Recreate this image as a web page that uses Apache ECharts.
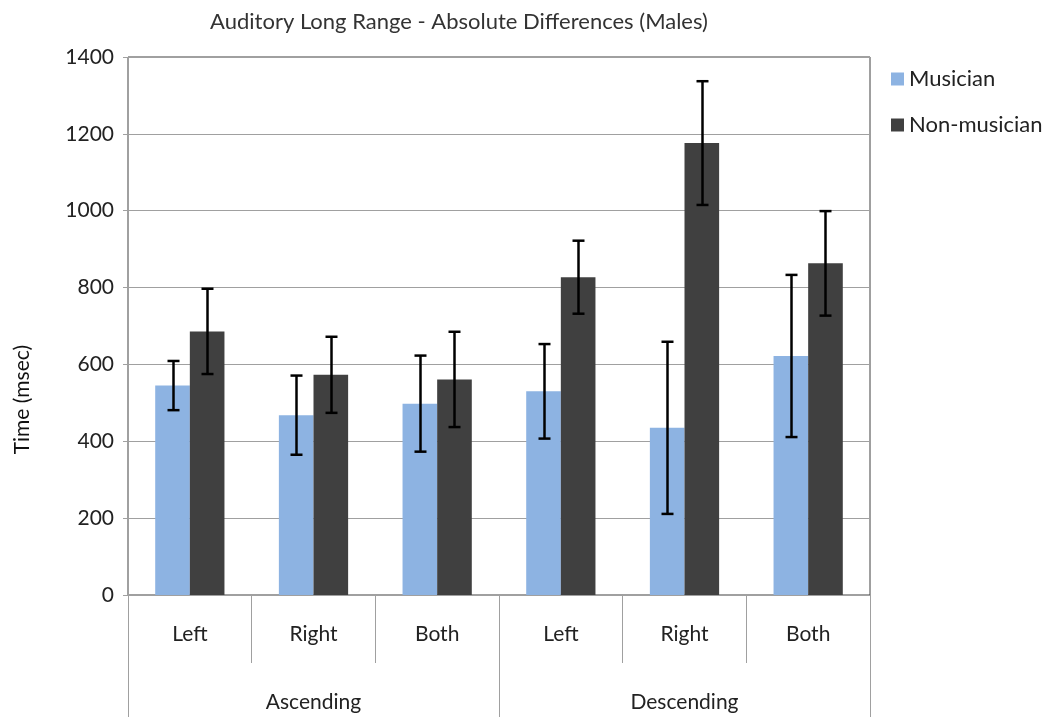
<!DOCTYPE html>
<html>
<head>
<meta charset="utf-8">
<script src="https://cdn.jsdelivr.net/npm/echarts@6/dist/echarts.min.js"></script>
<style>
html,body{margin:0;padding:0;background:#fff;}
#chart{width:1047px;height:717px;}
</style>
</head>
<body>
<div id="chart"></div>
<script>
var categories = ['Left', 'Right', 'Both', 'Left', 'Right', 'Both'];
var groups = ['Ascending', 'Descending'];
var seriesNames = ['Musician', 'Non-musician'];
var musician = [545, 468, 498, 530, 435, 622];
var musicianErr = [64, 103, 125, 123, 224, 211];
var nonMusician = [686, 573, 561, 827, 1176, 863];
var nonMusicianErr = [111, 99, 124, 95, 161, 136];
var yTicks = [0, 200, 400, 600, 800, 1000, 1200, 1400];

var FONT = 'Lato';
var chart = echarts.init(document.getElementById('chart'));

function errData(vals, errs) {
  return vals.map(function (v, i) { return [i, v, v + errs[i], v - errs[i]]; });
}
function errSeries(vals, errs, off) {
  return {
    type: 'custom',
    xAxisIndex: 0,
    yAxisIndex: 0,
    z: 10,
    silent: true,
    data: errData(vals, errs),
    renderItem: function (params, api) {
      var i = api.value(0);
      var hi = api.coord([i, api.value(2)]);
      var lo = api.coord([i, api.value(3)]);
      var W = api.size([1, 0])[0];
      var x = Math.round(hi[0] + off * W) + 0.5;
      var cap = 6;
      var st = { stroke: '#000', lineWidth: 2.5 };
      return {
        type: 'group',
        children: [
          { type: 'line', shape: { x1: x, y1: hi[1], x2: x, y2: lo[1] }, style: st },
          { type: 'line', shape: { x1: x - cap, y1: hi[1], x2: x + cap, y2: hi[1] }, style: st },
          { type: 'line', shape: { x1: x - cap, y1: lo[1], x2: x + cap, y2: lo[1] }, style: st }
        ]
      };
    }
  };
}

var option = {
  backgroundColor: '#fff',
  animation: false,
  textStyle: { fontFamily: FONT },
  title: {
    text: 'Auditory Long Range - Absolute Differences (Males)',
    left: 454,
    textAlign: 'center',
    top: 6,
    textStyle: { fontFamily: FONT, fontSize: 22, fontWeight: 'normal', color: '#333' }
  },
  legend: {
    orient: 'vertical',
    left: 886,
    top: 63,
    itemGap: 24,
    itemWidth: 13,
    itemHeight: 13,
    icon: 'rect',
    data: seriesNames,
    textStyle: { fontFamily: FONT, fontSize: 22, color: '#222', padding: [0, 0, 0, 0] }
  },
  grid: {
    left: 128, right: 177, top: 57, bottom: 122,
    show: true, borderColor: '#404040', borderWidth: 1, backgroundColor: 'transparent'
  },
  graphic: [{
    type: 'text',
    left: 12,
    top: 345,
    rotation: Math.PI / 2,
    style: { text: 'Time (msec)', font: '21px ' + FONT, fill: '#111' }
  }],
  xAxis: [{
    type: 'category',
    data: categories,
    position: 'bottom',
    axisLine: { show: true, lineStyle: { color: '#a0a0a0', width: 1 } },
    axisTick: { show: true, length: 68, lineStyle: { color: '#a0a0a0' } },
    axisLabel: { margin: 29, fontFamily: FONT, fontSize: 21, color: '#222' },
    splitLine: { show: false }
  }, {
    type: 'category',
    data: groups,
    position: 'bottom',
    axisLine: { show: false },
    axisTick: { show: true, length: 122, lineStyle: { color: '#a0a0a0' } },
    axisLabel: { margin: 97, fontFamily: FONT, fontSize: 21, color: '#222' },
    splitLine: { show: false }
  }],
  yAxis: {
    type: 'value',
    min: yTicks[0],
    max: yTicks[yTicks.length - 1],
    interval: 200,
    axisLine: { show: true, lineStyle: { color: '#a0a0a0' } },
    axisTick: { show: true, length: 5, lineStyle: { color: '#a0a0a0' } },
    axisLabel: { margin: 14, fontFamily: FONT, fontSize: 21, color: '#222', formatter: function (v) { return String(v); } },
    splitLine: { show: true, lineStyle: { color: '#a0a0a0', width: 1 } }
  },
  series: [{
    name: seriesNames[0],
    type: 'bar',
    data: musician,
    barGap: '0%',
    barCategoryGap: '44%',
    itemStyle: { color: '#8db3e2' }
  }, {
    name: seriesNames[1],
    type: 'bar',
    data: nonMusician,
    barGap: '0%',
    barCategoryGap: '44%',
    itemStyle: { color: '#404040' }
  },
  errSeries(musician, musicianErr, -0.14),
  errSeries(nonMusician, nonMusicianErr, 0.14)
  ]
};
chart.setOption(option);
</script>
</body>
</html>
